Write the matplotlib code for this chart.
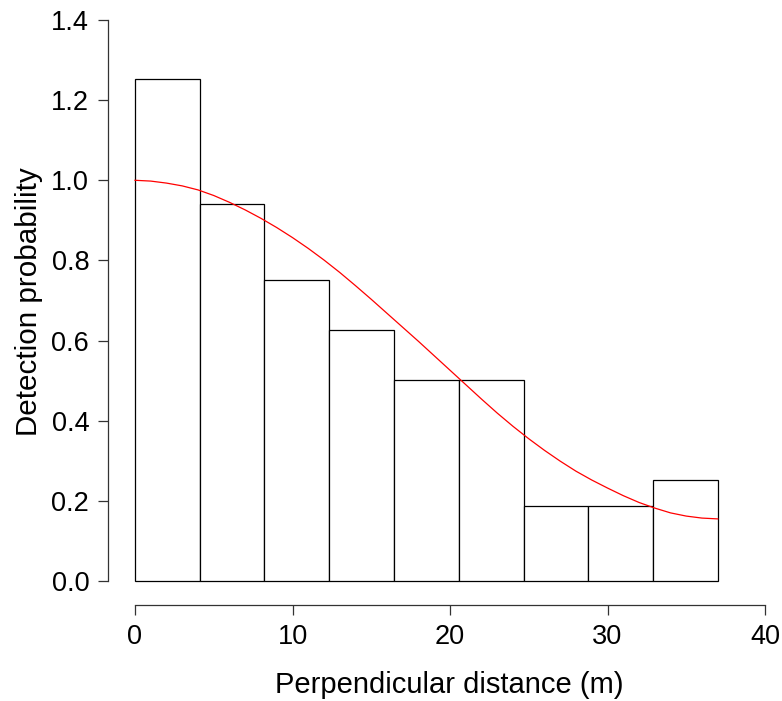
import numpy as np
import matplotlib
matplotlib.use("Agg")
import matplotlib.pyplot as plt

# Histogram of scaled detection counts (9 bins, 0-37 m)
bin_edges = [0, 4.111, 8.222, 12.333, 16.444, 20.556, 24.667, 28.778, 32.889, 37.0]
bar_heights = [1.254, 0.940, 0.752, 0.627, 0.502, 0.502, 0.188, 0.188, 0.251]

# Fitted detection function
curve_x = list(range(0, 38))
curve_y = [1.000, 0.998, 0.993, 0.986, 0.976, 0.962, 0.945, 0.926, 0.905, 0.882,
           0.857, 0.830, 0.801, 0.770, 0.737, 0.703, 0.668, 0.633, 0.598, 0.562,
           0.526, 0.490, 0.454, 0.419, 0.386, 0.355, 0.326, 0.299, 0.274, 0.252,
           0.232, 0.213, 0.196, 0.182, 0.170, 0.162, 0.157, 0.155]

x_ticks = [0, 10, 20, 30, 40]
y_ticks = [0.0, 0.2, 0.4, 0.6, 0.8, 1.0, 1.2, 1.4]

plt.rcParams['font.family'] = ['Liberation Sans', 'DejaVu Sans']

W, H = 782, 701
fig = plt.figure(figsize=(W / 100, H / 100), dpi=100)
# axes placed in pixel coordinates
ax_left, ax_right, ax_top, ax_bottom = 108, 775, 8, 605
ax = fig.add_axes([ax_left / W, 1 - ax_bottom / H, (ax_right - ax_left) / W, (ax_bottom - ax_top) / H])

# data -> pixel mapping: x 0->135, 40->765 ; y 0->581, 1.4->20
xs = (765 - 135) / 40.0
ys = (581 - 20) / 1.4
ax.set_xlim(-(135 - ax_left) / xs, 40 + (ax_right - 765) / xs)
ax.set_ylim(-(ax_bottom - 581) / ys, 1.4 + (20 - ax_top) / ys)

widths = np.diff(bin_edges)
ax.bar(bin_edges[:-1], bar_heights, width=widths, align='edge',
       facecolor='white', edgecolor='black', linewidth=0.9)
ax.plot(curve_x, curve_y, color='red', linewidth=0.9)

for s in ['top', 'right']:
    ax.spines[s].set_visible(False)
ax.spines['left'].set_bounds(0, 1.4)
ax.spines['bottom'].set_bounds(0, 40)
for s in ['left', 'bottom']:
    ax.spines[s].set_linewidth(0.9)
    ax.spines[s].set_color('#333333')

ax.set_xticks(x_ticks)
ax.set_xticklabels([str(t) for t in x_ticks])
ax.set_yticks(y_ticks)
ax.set_yticklabels([f"{t:.1f}" for t in y_ticks])
ax.tick_params(axis='both', direction='out', length=7.5, width=0.9, color='#333333',
               labelsize=19.5, pad=6)

ax.set_xlabel("Perpendicular distance (m)", fontsize=21.0)
ax.set_ylabel("Detection probability", fontsize=21.3)
ax.xaxis.set_label_coords((449 - ax_left) / (ax_right - ax_left), -(671 - ax_bottom) / (ax_bottom - ax_top))
ax.yaxis.set_label_coords((43 - ax_left) / (ax_right - ax_left), (ax_bottom - 302) / (ax_bottom - ax_top))

fig.savefig("out.png", dpi=100)
